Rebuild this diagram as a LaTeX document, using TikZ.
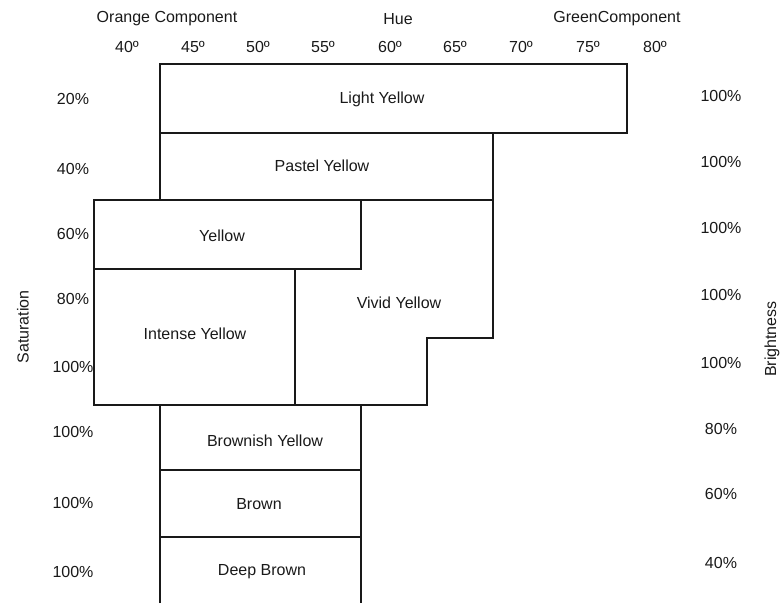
\documentclass[tikz,border=0pt]{standalone}
\usepackage{fontspec}
\setmainfont{Liberation Sans}
\tikzset{
  every node/.style={
    text=black!90,
    font=\fontsize{16}{19}\selectfont
  },
  box/.style={draw=black!90, line width=1.5pt, line join=miter}
}

\begin{document}
\begin{tikzpicture}[x=1pt,y=-1pt]
    %\draw[gray, very thin] (0,0) grid[step=50] (784,603);
    \useasboundingbox (0,0) rectangle (784,603);

    % hue axis
    \node (orange) at (167,19) {Orange Component};
    \node (hue) at (398,19) {Hue};
    \node (green) at (617,19) {GreenComponent};
    \node (h40) at (127,47) {40º};
    \node (h45) at (193,47) {45º};
    \node (h50) at (258,47) {50º};
    \node (h55) at (323,47) {55º};
    \node (h60) at (390,47) {60º};
    \node (h65) at (455,47) {65º};
    \node (h70) at (521,47) {70º};
    \node (h75) at (588,47) {75º};
    \node (h80) at (655,47) {80º};

    % saturation
    \node[rotate=90] (sat) at (23,327) {Saturation};
    \node (s1) at (73,99) {20\%};
    \node (s2) at (73,169) {40\%};
    \node (s3) at (73,234) {60\%};
    \node (s4) at (73,299) {80\%};
    \node (s5) at (73,367) {100\%};
    \node (s6) at (73,432) {100\%};
    \node (s7) at (73,503) {100\%};
    \node (s8) at (73,572) {100\%};

    % brightness
    \node[rotate=90] (bri) at (772,339) {Brightness};
    \node (b1) at (721,96) {100\%};
    \node (b2) at (721,162) {100\%};
    \node (b3) at (721,228) {100\%};
    \node (b4) at (721,295) {100\%};
    \node (b5) at (721,363) {100\%};
    \node (b6) at (721,429) {80\%};
    \node (b7) at (721,494) {60\%};
    \node (b8) at (721,563) {40\%};

    % colour fields
    \draw[box] (160,64) rectangle (627,133);
    \draw[box] (160,133) rectangle (493,200);
    \draw[box] (94,200) rectangle (361,269);
    \draw[box] (94,269) rectangle (295,405);
    \draw[box] (361,200) -- (493,200) -- (493,338) -- (427,338) -- (427,405)
        -- (295,405) -- (295,269) -- (361,269) -- cycle;
    \draw[box] (160,405) rectangle (361,470);
    \draw[box] (160,470) rectangle (361,537);
    \draw[box] (160,603) -- (160,537) -- (361,537) -- (361,603);

    \node (light) at (382,99) {Light Yellow};
    \node (pastel) at (322,166) {Pastel Yellow};
    \node (yellow) at (222,236) {Yellow};
    \node (intense) at (195,334) {Intense Yellow};
    \node (vivid) at (399,303) {Vivid Yellow};
    \node (brownish) at (265,441) {Brownish Yellow};
    \node (brown) at (259,504) {Brown};
    \node (deep) at (262,572) {Deep Brown};
\end{tikzpicture}
\end{document}
